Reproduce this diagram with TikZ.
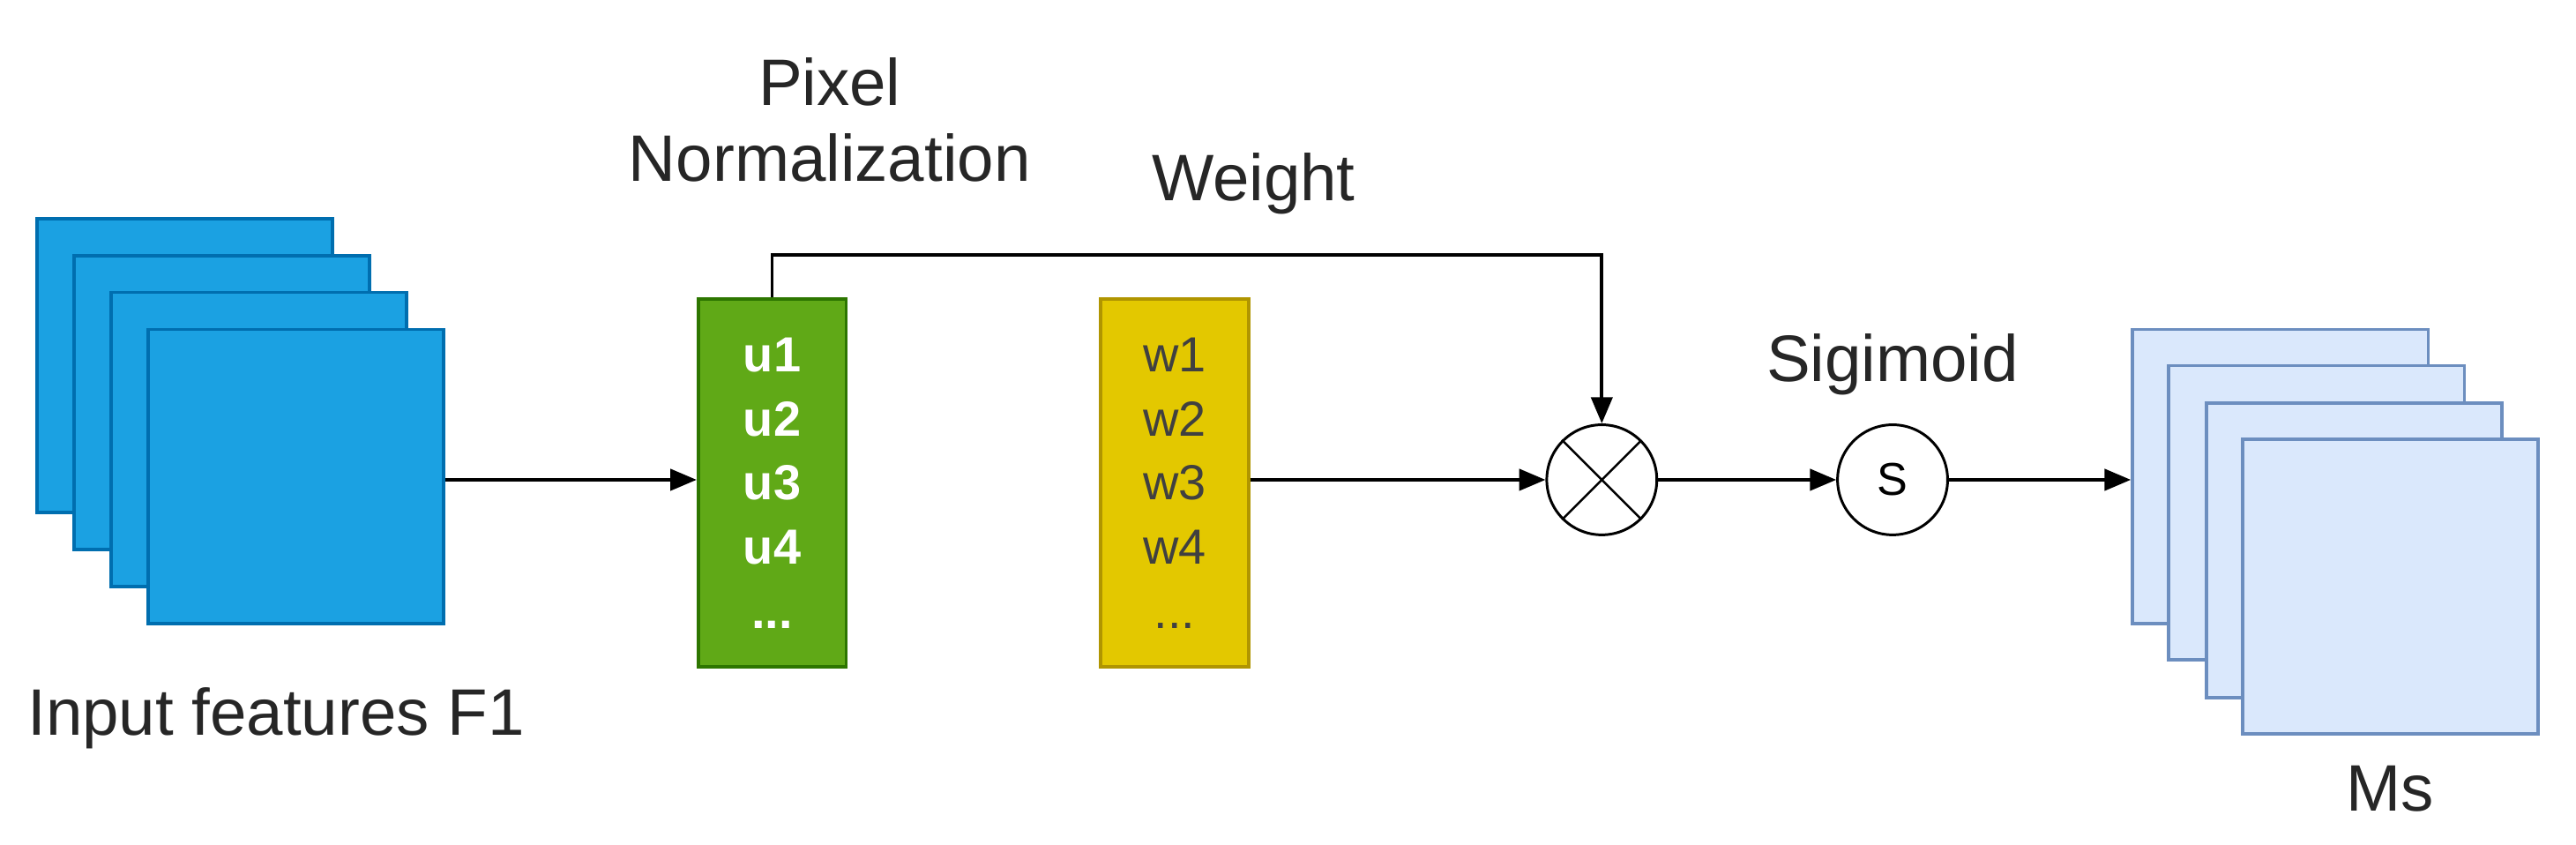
\documentclass[tikz,border=0pt]{standalone}
\usepackage{fontspec}
\setmainfont{Liberation Sans}
\usetikzlibrary{arrows.meta,shapes.misc}
\definecolor{bfill}{HTML}{1BA1E2}\definecolor{bdraw}{HTML}{006EAF}
\definecolor{gfill}{HTML}{60A917}\definecolor{gdraw}{HTML}{2D7600}
\definecolor{yfill}{HTML}{E3C800}\definecolor{ydraw}{HTML}{B09500}
\definecolor{lfill}{HTML}{DAE8FC}\definecolor{ldraw}{HTML}{6C8EBF}
\begin{document}
\begin{tikzpicture}[x=1pt,y=-1pt,
  fmap/.style={draw=bdraw,fill=bfill,line width=2pt,minimum width=180pt,minimum height=179pt,inner sep=0},
  omap/.style={draw=ldraw,fill=lfill,line width=2pt,minimum width=180pt,minimum height=179pt,inner sep=0},
  vec/.style={line width=2pt,minimum width=90pt,minimum height=224pt,inner sep=0,align=center,font=\fontsize{30}{39}\selectfont},
  op/.style={circle,draw,line width=1.6pt,minimum size=67pt,inner sep=0},
  lbl/.style={font=\fontsize{40}{46}\selectfont,align=center,text=black!85},
  arr/.style={-{Triangle[length=16pt,width=13pt]},line width=2pt}]
\useasboundingbox (0,0) rectangle (1568,514);
\node[fmap] (f1) at (112.5,222.5) {};
\node[fmap] (f2) at (135,245) {};
\node[fmap] (f3) at (157.5,267.5) {};
\node[fmap] (f4) at (180,290) {};
\node[vec,draw=gdraw,fill=gfill,text=white,font=\fontsize{30}{39}\bfseries] (u) at (470,294) {u1\\u2\\u3\\u4\\...};
\node[vec,draw=ydraw,fill=yfill,text=black!75] (w) at (715,294) {w1\\w2\\w3\\w4\\...};
\node[op] (mul) at (975,292) {};
\draw[line width=1.3pt] (mul.north west) -- (mul.south east) (mul.north east) -- (mul.south west);
\node[op,font=\fontsize{28}{30}\selectfont] (sig) at (1152,292) {S};
\node[omap] (m1) at (1388,290) {};
\node[omap] (m2) at (1410,312) {};
\node[omap] (m3) at (1433,335) {};
\node[omap] (m4) at (1455,357) {};
\node[lbl] (tin) at (168,437) {Input features F1};
\node[lbl] (tpn) at (505,73) {Pixel\\Normalization};
\node[lbl] (tw) at (763,112) {Weight};
\node[lbl] (ts) at (1152,222) {Sigimoid};
\node[lbl] (tms) at (1455,480) {Ms};
\draw[arr] (f4.east |- 0,292) -- (u.west |- 0,292);
\draw[arr] (w.east |- 0,292) -- (mul.west);
\draw[arr] (mul.east) -- (sig.west);
\draw[arr] (sig.east) -- (m1.west |- 0,292);
\coordinate (c1) at (470,155);
\coordinate (c2) at (975,155);
\draw[arr] (u.north) -- (c1) -- (c2) -- (mul.north);
\end{tikzpicture}
\end{document}
